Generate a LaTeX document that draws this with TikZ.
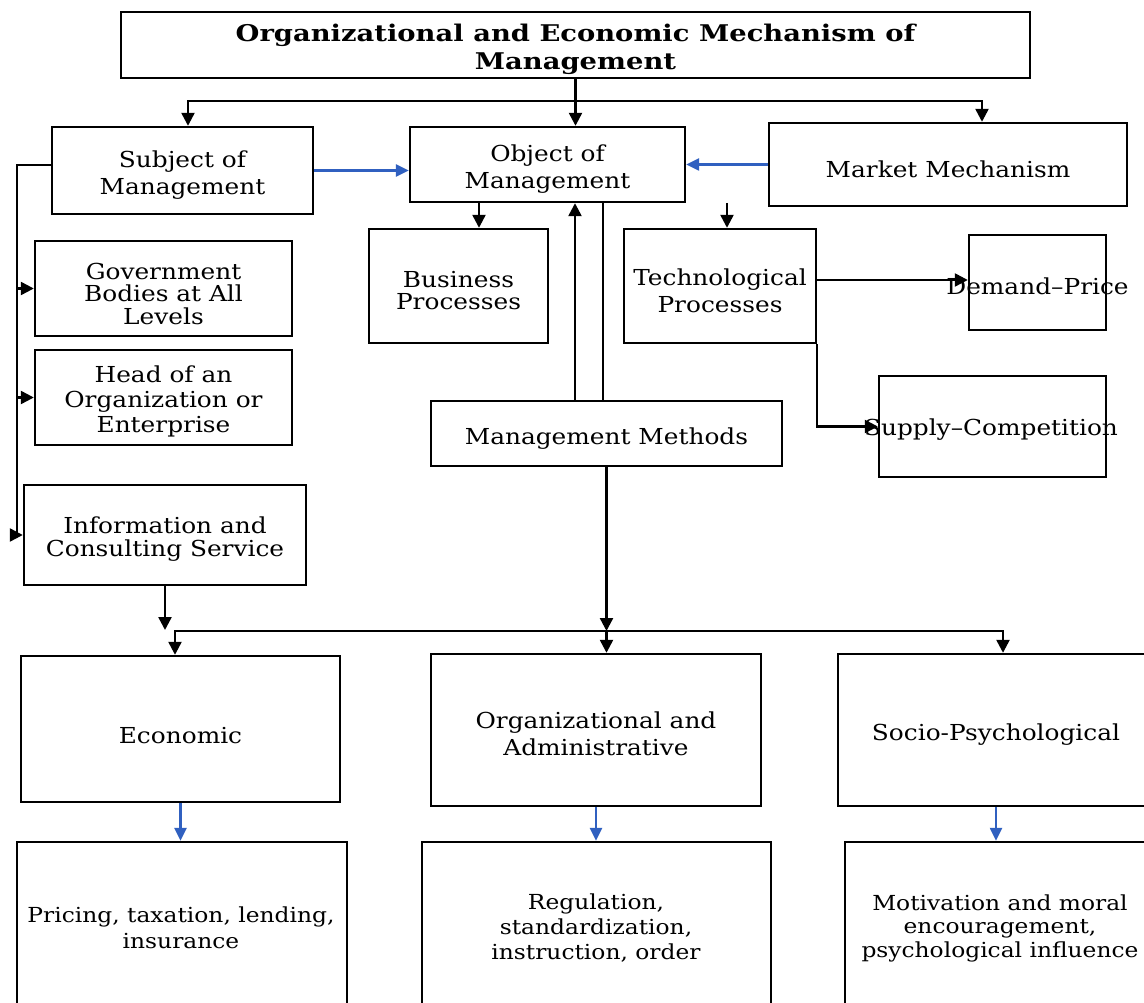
\documentclass[tikz,border=0pt]{standalone}
\usepackage{fontspec}
\setmainfont[FakeStretch=1.128]{DejaVu Serif}
\newfontfamily\titlefont[FakeStretch=1.19]{DejaVu Serif}
\usetikzlibrary{arrows.meta}
\definecolor{lnblue}{RGB}{48,96,192}
\newcommand{\fsz}[1]{\fontsize{22}{#1}\selectfont}
\newcommand{\fsm}[1]{\fontsize{20.7}{#1}\selectfont}
\tikzset{
  box/.style={draw, line width=2.4pt, inner sep=0pt},
  plain/.style={inner sep=0pt, align=center, font=\fsz{27}},
  arr/.style={line width=2.4pt, -{Triangle[length=13pt,width=13pt]}},
  ln/.style={line width=2.4pt},
  barr/.style={line width=2.4pt, draw=lnblue, -{Triangle[length=13pt,width=12pt]}, lnblue},
}
\begin{document}
\begin{tikzpicture}[x=1pt,y=-1pt]
\clip (0,0) rectangle (1144,1003);
\fill[white] (0,0) rectangle (1144,1003);
% boxes
\node[box, minimum width=909pt, minimum height=66pt] (title) at (575.5,45) {};
\node[plain, font=\titlefont\bfseries\fontsize{23}{28}\selectfont] (titlet) at (575.5,49.5) {Organizational and Economic Mechanism of\\Management};
\node[box, minimum width=261pt, minimum height=87pt] (subj) at (182.5,170.5) {};
\node[plain] (subjt) at (182.5,175.5) {Subject of\\Management};
\node[box, minimum width=275pt, minimum height=75pt] (obj) at (547.5,164.5) {};
\node[plain] (objt) at (547.5,169.5) {Object of\\Management};
\node[box, minimum width=358pt, minimum height=83pt] (mkt) at (948,164.5) {};
\node[plain] (mktt) at (948,169.5) {Market Mechanism};
\node[box, minimum width=257pt, minimum height=95pt] (gov) at (163.5,288.5) {};
\node[plain, font=\fsz{22.5}] (govt) at (163.5,293.5) {Government\\Bodies at All\\Levels};
\node[box, minimum width=257pt, minimum height=95pt] (head) at (163.5,397.5) {};
\node[plain, font=\fsz{25}] (headt) at (163.5,401.5) {Head of an\\Organization or\\Enterprise};
\node[box, minimum width=282pt, minimum height=100pt] (info) at (165,535) {};
\node[plain, font=\fsz{23}] (infot) at (165,539) {Information and\\Consulting Service};
\node[box, minimum width=179pt, minimum height=114pt] (bus) at (458.5,286) {};
\node[plain, font=\fsz{22}] (bust) at (458.5,291) {Business\\Processes};
\node[box, minimum width=192pt, minimum height=114pt] (tech) at (720,286) {};
\node[plain] (techt) at (720,290.5) {Technological\\Processes};
\node[box, minimum width=137pt, minimum height=95pt] (dem) at (1037.5,282.5) {};
\node[plain] (demt) at (1037.5,286) {Demand–Price};
\node[box, minimum width=227pt, minimum height=101pt] (sup) at (992.5,426.5) {};
\node[plain] (supt) at (991,430) {Supply–Competition};
\node[box, minimum width=351pt, minimum height=65pt] (mm) at (606.5,433.5) {};
\node[plain] (mmt) at (606.5,438.5) {Management Methods};
\node[box, minimum width=319pt, minimum height=146pt] (eco) at (180.5,729) {};
\node[plain] (ecot) at (180.5,736) {Economic};
\node[box, minimum width=330pt, minimum height=152pt] (org) at (596,730) {};
\node[plain] (orgt) at (596,734) {Organizational and\\Administrative};
\node[box, minimum width=322pt, minimum height=152pt] (soc) at (999,730) {};
\node[plain] (soct) at (996,735) {Socio-Psychological};
\node[box, minimum width=330pt, minimum height=178pt] (pri) at (182,931) {};
\node[plain, font=\fsm{26}] (prit) at (181,928) {Pricing, taxation, lending,\\insurance};
\node[box, minimum width=349pt, minimum height=178pt] (reg) at (596.5,931) {};
\node[plain, font=\fsm{25}] (regt) at (596,928) {Regulation,\\standardization,\\instruction, order};
\node[box, minimum width=315pt, minimum height=178pt] (mot) at (1002.5,931) {};
\node[plain, font=\fsm{23.5}] (mott) at (1000,928) {Motivation and moral\\encouragement,\\psychological influence};
% top distribution
\coordinate (tj) at (575.5,101);
\draw[ln] (title.south) -- (tj);
\draw[arr] (tj) -| ([xshift=5.5pt]subj.north);
\draw[arr] (tj) -| ([xshift=34pt]mkt.north);
\draw[arr] (tj) -- (tj |- obj.north);
% blue horizontal
\draw[barr] (subj.east) -- (subj.east -| obj.west);
\draw[barr] (mkt.west) -- (mkt.west -| obj.east);
% left bus
\coordinate (lb) at (17,165);
\draw[ln] ([yshift=5.5pt]subj.west) -- (lb) -- (lb |- info.west);
\draw[arr] (gov.west -| lb) -- (gov.west);
\draw[arr] (head.west -| lb) -- (head.west);
\draw[arr] ([xshift=-5pt]info.west -| lb) -- (info.west);
% object children
\draw[arr] ([xshift=20.5pt]bus.north |- obj.south) -- ([xshift=20.5pt]bus.north);
\coordinate (tt) at (727,203);
\draw[arr] (tt) -- (tt |- tech.north);
\draw[arr] ([yshift=6pt]tech.east) -- ([yshift=6pt]tech.east -| dem.west);
\draw[arr] (tech.south east) -- (tech.south east |- sup.west) -- (sup.west);
% methods to object
\draw[arr] ([xshift=-31.5pt]mm.north) -- ([xshift=-31.5pt]mm.north |- obj.south);
\draw[ln] ([xshift=-3.5pt]mm.north) -- ([xshift=-3.5pt]mm.north |- obj.south);
% lower distribution
\coordinate (bj) at (606.5,631);
\draw[arr] (mm.south) -- (bj);
\draw[arr] (info.south) -- ([yshift=1pt]info.south |- bj);
\draw[arr] (bj) -| ([xshift=-5.5pt]eco.north);
\draw[arr] (bj) -| ([xshift=4pt]soc.north);
\draw[arr] (bj) -- (bj |- org.north);
% blue down
\draw[barr] (eco.south) -- (eco.south |- pri.north);
\draw[barr] (org.south) -- (org.south |- reg.north);
\draw[barr] ([xshift=-3pt]soc.south) -- ([xshift=-3pt]soc.south |- mot.north);
\end{tikzpicture}
\end{document}
